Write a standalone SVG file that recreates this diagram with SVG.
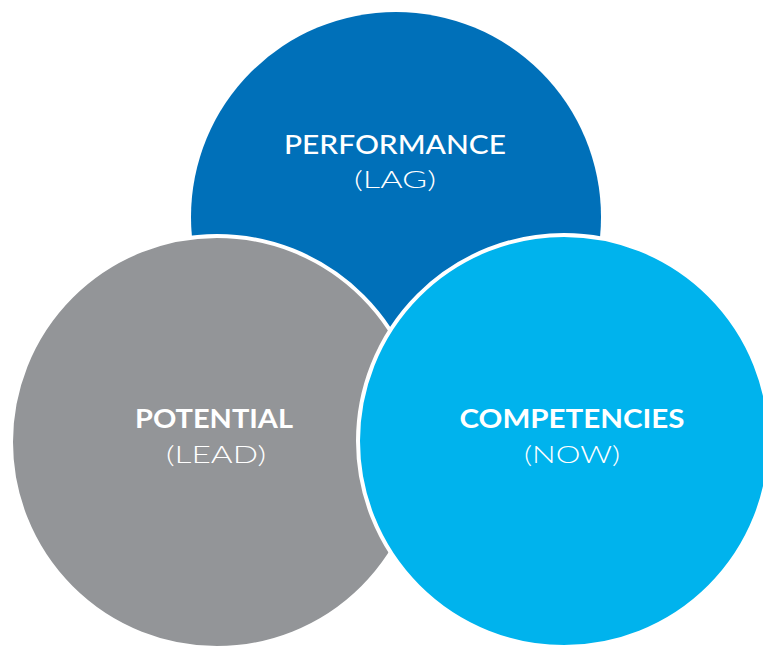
<svg xmlns="http://www.w3.org/2000/svg" width="763" height="646" viewBox="0 0 763 646">
<style>
.t{font-family:Lato,"Open Sans","Liberation Sans",sans-serif;fill:#fff;text-anchor:middle}
.b{font-weight:700;font-size:26px}
.m{font-weight:500;font-size:27px}
.l{font-weight:300;font-size:24px}
.ring{stroke:#fff;stroke-width:4}
</style>
<rect width="763" height="646" fill="#fff"/>
<g id="performance">
<circle cx="396" cy="217" r="205" fill="#0070b9"/>
<text class="t m" x="395" y="154" textLength="222" lengthAdjust="spacingAndGlyphs">PERFORMANCE</text>
<text class="t l" x="395" y="188" textLength="82" lengthAdjust="spacingAndGlyphs">(LAG)</text>
</g>
<g id="potential">
<circle class="ring" cx="217" cy="442" r="206" fill="#939598"/>
<text class="t b" x="214" y="428" textLength="158" lengthAdjust="spacingAndGlyphs">POTENTIAL</text>
<text class="t l" x="216" y="463" textLength="100" lengthAdjust="spacingAndGlyphs">(LEAD)</text>
</g>
<g id="competencies">
<circle class="ring" cx="564" cy="441" r="206" fill="#00b3ed"/>
<text class="t b" x="572" y="428" textLength="225" lengthAdjust="spacingAndGlyphs">COMPETENCIES</text>
<text class="t l" x="572" y="463" textLength="96" lengthAdjust="spacingAndGlyphs">(NOW)</text>
</g>
<g id="connectors"/>
</svg>
